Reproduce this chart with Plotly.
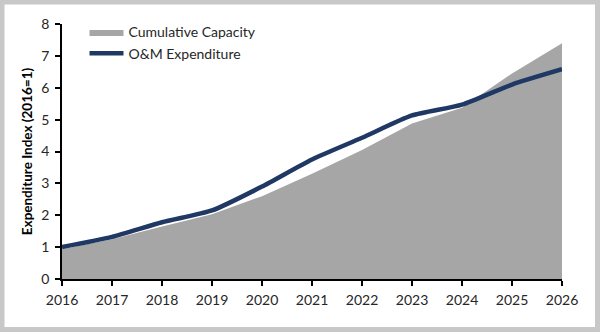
import plotly.graph_objects as go

years = [2016, 2017, 2018, 2019, 2020, 2021, 2022, 2023, 2024, 2025, 2026]
cumulative_capacity = [0.93, 1.25, 1.65, 2.03, 2.6, 3.3, 4.05, 4.88, 5.37, 6.45, 7.4]
om_expenditure = [1.0, 1.32, 1.78, 2.15, 2.9, 3.75, 4.43, 5.13, 5.47, 6.1, 6.58]

FONT = "Lato"
W, H = 600, 332
ML, MR, MT, MB = 62, 38, 24, 53
PW, PH = W - ML - MR, H - MT - MB

fig = go.Figure()
fig.add_trace(go.Scatter(
    x=years, y=cumulative_capacity, name="Cumulative Capacity",
    mode="lines", fill="tozeroy", fillcolor="#a6a6a6",
    line=dict(width=0, color="#a6a6a6"),
))
fig.add_trace(go.Scatter(
    x=years, y=om_expenditure, name="O&M Expenditure",
    mode="lines", line=dict(color="#1f3864", width=4.5, shape="spline", smoothing=0.6),
))

# light grey frame around the whole figure
fig.add_shape(
    type="rect", xref="paper", yref="paper",
    x0=(2 - ML) / PW, x1=(W - 2.5 - ML) / PW,
    y0=-(H - 2.5 - MT - PH) / PH, y1=1 + (MT - 2) / PH,
    line=dict(color="#c8c8c8", width=5), fillcolor="rgba(0,0,0,0)", layer="below",
)

fig.update_layout(
    width=W, height=H,
    margin=dict(l=ML, r=MR, t=MT, b=MB),
    paper_bgcolor="white", plot_bgcolor="white",
    font=dict(family=FONT, size=13, color="#262626"),
    showlegend=True,
    legend=dict(x=0.045, y=1.03, xanchor="left", yanchor="top",
                bgcolor="rgba(0,0,0,0)", font=dict(size=14, color="#262626"),
                itemwidth=34),
    xaxis=dict(
        range=[2016, 2026], tickvals=years, ticktext=[str(y) for y in years],
        showgrid=False, zeroline=False, showline=True, linecolor="black", linewidth=1.5,
        ticks="outside", ticklen=5, tickcolor="black", tickwidth=1.5,
        tickfont=dict(size=14, color="#262626"), ticklabelstandoff=2,
    ),
    yaxis=dict(
        range=[0, 8], dtick=1,
        showgrid=False, zeroline=False, showline=True, linecolor="black", linewidth=1.5,
        ticks="outside", ticklen=5, tickcolor="black", tickwidth=1.5,
        tickfont=dict(size=14, color="#262626"), ticklabelstandoff=3,
        title=dict(text="<b>Expenditure Index (2016=1)</b>", font=dict(size=13.5, color="#000000"),
                   standoff=6),
    ),
)

fig.write_html("out.html")
